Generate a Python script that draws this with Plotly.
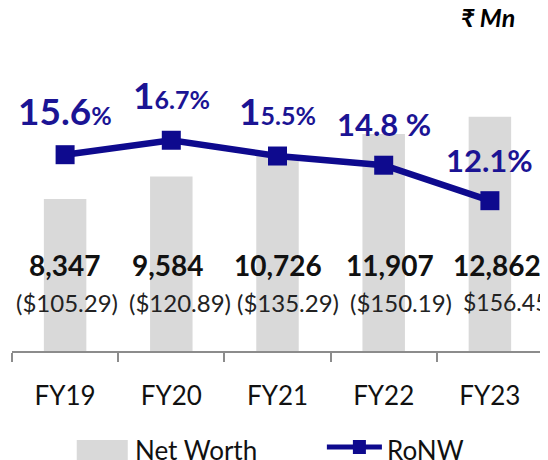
import plotly.graph_objects as go

# ---------------- data ----------------
years = ["FY19", "FY20", "FY21", "FY22", "FY23"]
net_worth = [8347, 9584, 10726, 11907, 12862]          # ₹ Mn
usd_labels = ["($105.29)", "($120.89)", "($135.29)", "($150.19)", "$156.45"]
ronw = [15.6, 16.7, 15.5, 14.8, 12.1]                  # %
# RoNW label pieces as printed in the source (large part, small part)
ronw_big = ["15.6", "1", "1", "14.8 %", "12.1%"]
ronw_small = ["%", "6.7%", "5.5%", "", ""]

# ---------------- style ----------------
FONT = "Lato"
BAR_C = "#D9D9D9"
LINE_C = "#0E0A8E"
TXT_C = "#1B1494"
AX_C = "#8C8C8C"

OFF = 8                      # page body margin of the html page
W, H = 548 - OFF, 460 - OFF
PLOT_L, PLOT_R, PLOT_T, PLOT_B = 12.3, 543, 40, 351   # in page pixels
ML = PLOT_L - OFF
MR = W - (PLOT_R - OFF)
MT = PLOT_T - OFF
MB = H - (PLOT_B - OFF)
PH = PLOT_B - PLOT_T
PW = PLOT_R - PLOT_L

big_sz = [37, 37, 37, 31, 31]
small_sz = 25
ronw_shift = [44, 46, 46, 41, 41]
val_shift = [0, -3, 0, 6, 7]
usd_shift = [2, 9, 10, 17, 0]


def px(xp):
    return (xp - PLOT_L) / PW


def py(yp):
    return (PLOT_B - yp) / PH


fig = go.Figure()
fig.add_trace(go.Bar(
    x=years, y=net_worth, name="Net Worth",
    marker=dict(color=BAR_C, line=dict(width=0)),
    width=0.4, showlegend=False, yaxis="y",
))
fig.add_trace(go.Scatter(
    x=years, y=ronw, name="RoNW", mode="lines+markers",
    line=dict(color=LINE_C, width=6.5),
    marker=dict(symbol="square", size=19, color=LINE_C),
    showlegend=False, yaxis="y2",
))

ann = []
for i, yr in enumerate(years):
    txt = f"<span style='font-size:{big_sz[i]}px'>{ronw_big[i]}</span>"
    if ronw_small[i]:
        txt += f"<span style='font-size:{small_sz}px'>{ronw_small[i]}</span>"
    ann.append(dict(x=yr, y=ronw[i], xref="x", yref="y2", text=f"<b>{txt}</b>",
                    showarrow=False, yshift=ronw_shift[i], xanchor="center",
                    yanchor="middle",
                    font=dict(family=FONT, size=big_sz[i], color=TXT_C)))
    ann.append(dict(x=yr, y=py(265), xref="x", yref="paper",
                    text=f"<b>{net_worth[i]:,}</b>", showarrow=False,
                    xanchor="center", yanchor="middle",
                    xshift=val_shift[i], font=dict(family=FONT, size=28, color="#111111")))
    if i < len(years) - 1:
        ann.append(dict(x=yr, y=py(302), xref="x", yref="paper",
                        text=usd_labels[i], showarrow=False, xshift=usd_shift[i],
                        xanchor="center", yanchor="middle",
                        font=dict(family=FONT, size=24, color="#222222")))
    else:
        ann.append(dict(x=yr, y=py(302), xref="x", yref="paper",
                        text=usd_labels[i], showarrow=False, xanchor="left",
                        yanchor="middle", xshift=-29,
                        font=dict(family=FONT, size=23, color="#222222")))

# unit label
ann.append(dict(x=px(517), y=py(17), xref="paper", yref="paper", xanchor="right",
                yanchor="middle", text="<b><i>₹ Mn</i></b>", showarrow=False,
                font=dict(family=FONT, size=25, color="#000000")))
# legend texts
ann.append(dict(x=px(133), y=py(450), xref="paper", yref="paper", xanchor="left",
                yanchor="middle", text="Net Worth", showarrow=False,
                font=dict(family=FONT, size=26, color="#111111")))
ann.append(dict(x=px(385), y=py(450), xref="paper", yref="paper", xanchor="left",
                yanchor="middle", text="RoNW", showarrow=False,
                font=dict(family=FONT, size=26, color="#111111")))

shapes = [
    dict(type="rect", xref="paper", yref="paper", x0=px(77), x1=px(128),
         y0=py(440), y1=py(462), fillcolor=BAR_C, line=dict(width=0)),
    dict(type="line", xref="paper", yref="paper", x0=px(327), x1=px(382),
         y0=py(447), y1=py(447), line=dict(color=LINE_C, width=5)),
    dict(type="rect", xref="paper", yref="paper", x0=px(353), x1=px(366),
         y0=py(440), y1=py(454), fillcolor=LINE_C, line=dict(width=0)),
]

fig.update_layout(
    width=W, height=H,
    margin=dict(l=ML, r=MR, t=MT, b=MB, pad=0, autoexpand=False),
    paper_bgcolor="white", plot_bgcolor="white",
    font=dict(family=FONT, color="#111111"),
    bargap=0.6,
    xaxis=dict(type="category", range=[-0.5, len(years) - 0.5],
               showline=True, linecolor=AX_C, linewidth=1.5,
               ticks="outside", tickson="boundaries", ticklen=9, tickcolor=AX_C,
               tickwidth=1.5, tickfont=dict(family=FONT, size=26, color="#111111"),
               ticklabelstandoff=21, showgrid=False, zeroline=False),
    yaxis=dict(range=[0, PH / 0.01822], visible=False, showgrid=False, zeroline=False),
    yaxis2=dict(range=[0.66, 24.33], overlaying="y", visible=False,
                showgrid=False, zeroline=False),
    annotations=ann, shapes=shapes, showlegend=False,
)

fig.write_html("out.html")
